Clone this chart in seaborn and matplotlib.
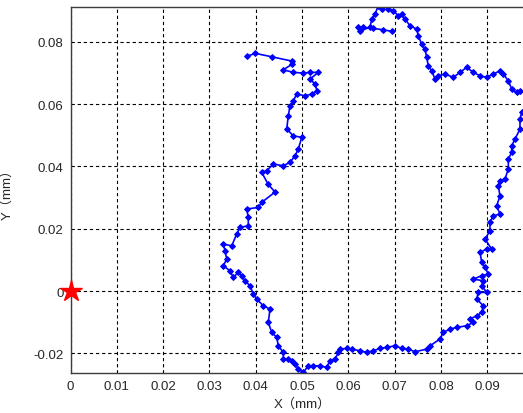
import numpy as np
import pandas as pd
import matplotlib
matplotlib.use('Agg')
import matplotlib.pyplot as plt
from matplotlib.ticker import FuncFormatter
import seaborn as sns

# trajectory (mm)
x_mm = [0.03806, 0.03991, 0.04346, 0.04778, 0.04790, 0.04596, 0.04812, 0.05028, 0.05173, 0.05352,
        0.05173, 0.05281, 0.05324, 0.05210, 0.05065, 0.04886, 0.04812, 0.04741, 0.04704, 0.04670,
        0.04812, 0.04994, 0.04920, 0.04849, 0.04741, 0.04596, 0.04380, 0.04238, 0.04130, 0.04266,
        0.04417, 0.04130, 0.04056, 0.03806, 0.03840, 0.03840, 0.03661, 0.03590, 0.03482, 0.03300,
        0.03337, 0.03374, 0.03300, 0.03445, 0.03516, 0.03624, 0.03698, 0.03769, 0.03877, 0.03948,
        0.04022, 0.04164, 0.04309, 0.04272, 0.04346, 0.04454, 0.04488, 0.04596, 0.04596, 0.04704,
        0.04778, 0.04849, 0.04920, 0.05028, 0.05136, 0.05244, 0.05389, 0.05533, 0.05605, 0.05713,
        0.05784, 0.05821, 0.05965, 0.06073, 0.06253, 0.06397, 0.06540, 0.06685, 0.06829, 0.07009,
        0.07153, 0.07296, 0.07441, 0.07693, 0.07765, 0.07981, 0.08052, 0.08197, 0.08341, 0.08557,
        0.08700, 0.08629, 0.08773, 0.08881, 0.08916, 0.08773, 0.08808, 0.08989, 0.08881, 0.08916,
        0.08700, 0.08881, 0.09024, 0.08953, 0.08881, 0.08845, 0.08989, 0.09097, 0.08953, 0.09060,
        0.09060, 0.09132, 0.09276, 0.09205, 0.09276, 0.09240, 0.09276, 0.09384, 0.09456, 0.09456,
        0.09529, 0.09529, 0.09601, 0.09708, 0.09708, 0.09745, 0.09950, 0.09850, 0.09708, 0.09637,
        0.09529, 0.09456, 0.09348, 0.09276, 0.09132, 0.08989, 0.08845, 0.08700, 0.08557, 0.08413,
        0.08268, 0.08089, 0.07944, 0.07873, 0.07801, 0.07728, 0.07693, 0.07657, 0.07585, 0.07512,
        0.07477, 0.07333, 0.07225, 0.07153, 0.07080, 0.06972, 0.06864, 0.06829, 0.06721, 0.06648,
        0.06577, 0.06505, 0.06469, 0.06253, 0.06216, 0.06324, 0.06540, 0.06756, 0.06937]
y_mm = [0.07535, 0.07631, 0.07522, 0.07384, 0.07287, 0.07104, 0.07021, 0.06998, 0.07021, 0.07021,
        0.06806, 0.06645, 0.06430, 0.06324, 0.06270, 0.06324, 0.06109, 0.05949, 0.05628, 0.05201,
        0.04986, 0.04934, 0.04559, 0.04343, 0.04132, 0.04023, 0.04077, 0.03862, 0.03811, 0.03435,
        0.03178, 0.02848, 0.02687, 0.02632, 0.02366, 0.02096, 0.02045, 0.01830, 0.01454, 0.01509,
        0.01294, 0.01027, 0.00812, 0.00652, 0.00440, 0.00600, 0.00491, 0.00331, 0.00170, -0.00096,
        -0.00257, -0.00472, -0.00578, -0.01005, -0.01326, -0.01486, -0.01756, -0.01968, -0.02183, -0.02183,
        -0.02238, -0.02344, -0.02504, -0.02610, -0.02398, -0.02398, -0.02398, -0.02449, -0.02238, -0.02183,
        -0.01968, -0.01862, -0.01840, -0.01862, -0.01917, -0.01968, -0.01917, -0.01840, -0.01807, -0.01756,
        -0.01840, -0.01862, -0.01949, -0.01862, -0.01756, -0.01541, -0.01326, -0.01220, -0.01165, -0.01114,
        -0.01005, -0.00899, -0.00793, -0.00684, -0.00472, -0.00257, -0.00042, -0.00042, 0.00170, 0.00331,
        0.00385, 0.00491, 0.00546, 0.00761, 0.00921, 0.01242, 0.01348, 0.01348, 0.01669, 0.01936,
        0.02205, 0.02417, 0.02472, 0.02738, 0.03059, 0.03380, 0.03541, 0.03596, 0.03917, 0.04238,
        0.04453, 0.04665, 0.04880, 0.05201, 0.05522, 0.05737, 0.06003, 0.06400, 0.06430, 0.06379,
        0.06485, 0.06751, 0.06966, 0.07072, 0.06966, 0.06860, 0.06912, 0.07021, 0.07181, 0.07021,
        0.06860, 0.06966, 0.06912, 0.06806, 0.07072, 0.07233, 0.07502, 0.07769, 0.07929, 0.08196,
        0.08411, 0.08517, 0.08732, 0.08892, 0.08838, 0.08998, 0.09053, 0.09159, 0.09053, 0.09159,
        0.08892, 0.08732, 0.08465, 0.08356, 0.08465, 0.08465, 0.08433, 0.08388, 0.08337]
start_x = [0.0]
start_y = [0.0]
xticks = [0, 0.01, 0.02, 0.03, 0.04, 0.05, 0.06, 0.07, 0.08, 0.09]
yticks = [-0.02, 0, 0.02, 0.04, 0.06, 0.08]

df = pd.DataFrame({'x': x_mm, 'y': y_mm})

sns.set_style('white')
plt.rcParams['font.family'] = ['Liberation Sans', 'Noto Sans CJK SC', 'DejaVu Sans']

fig = plt.figure(figsize=(5.23, 4.14), dpi=100)
ax = fig.add_axes([70.5 / 523, 1 - 374 / 414, 463 / 523, (374 - 8.3) / 414])

sns.lineplot(data=df, x='x', y='y', sort=False, estimator=None, ax=ax,
             color='#0000ff', lw=1.2, marker='D', markersize=3,
             markeredgecolor='#0000ff')
ax.plot(start_x, start_y, marker='*', color='red', markersize=16, ls='none',
        clip_on=False, zorder=5)

ax.set_xlim(0, 0.1)
ax.set_ylim(-0.0263, 0.0911)
ax.set_xticks(xticks)
ax.set_yticks(yticks)
fmt = FuncFormatter(lambda v, p: f'{round(v, 4):g}')
ax.xaxis.set_major_formatter(fmt)
ax.yaxis.set_major_formatter(fmt)

ax.grid(True, color='black', ls=(0, (3, 2.5)), lw=0.8)
ax.tick_params(direction='in', length=3, labelsize=9.5, colors='#262626', pad=5)
for s in ax.spines.values():
    s.set_color('#3c3c3c')
    s.set_linewidth(1.0)

ax.set_xlabel('X（mm）', fontsize=9.5, color='#262626', labelpad=4)
ax.set_ylabel('Y（mm）', fontsize=9.5, color='#262626', labelpad=14)

plt.savefig('out.png', dpi=100)
